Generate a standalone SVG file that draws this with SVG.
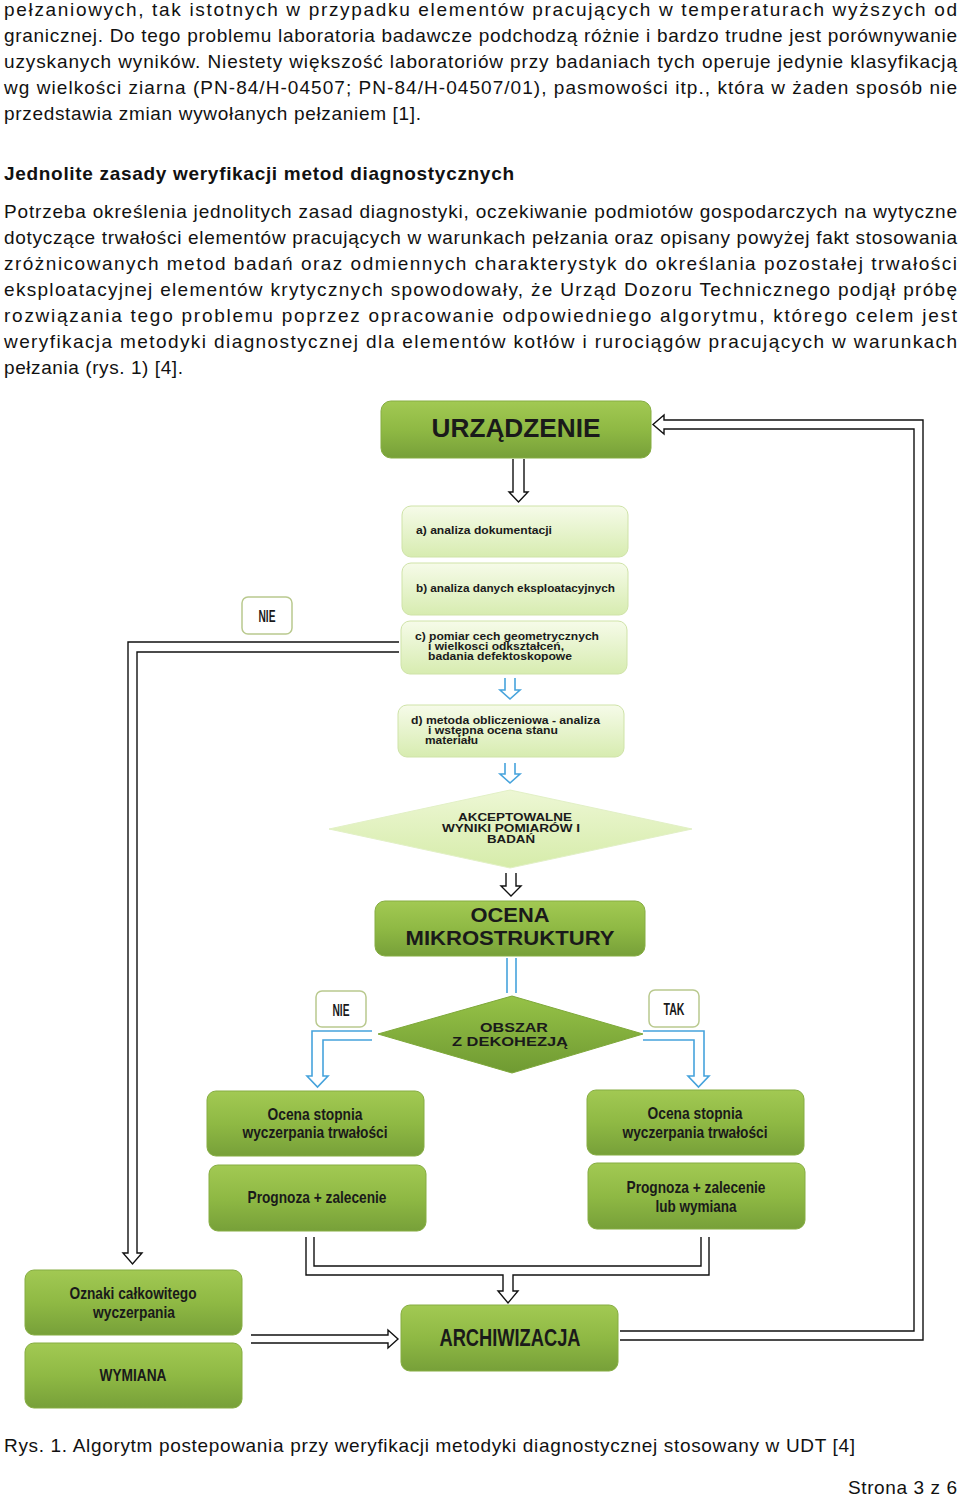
<svg xmlns="http://www.w3.org/2000/svg" width="960" height="1497" viewBox="0 0 960 1497">
<defs>
<linearGradient id="gDark" x1="0" y1="0" x2="0" y2="1">
<stop offset="0" stop-color="#a2c953"/>
<stop offset="0.5" stop-color="#8fb944"/>
<stop offset="1" stop-color="#77a039"/>
</linearGradient>
<linearGradient id="gLight" x1="0" y1="0" x2="0" y2="1">
<stop offset="0" stop-color="#f6fbe9"/>
<stop offset="1" stop-color="#d7ecb0"/>
</linearGradient>
<linearGradient id="gDia" x1="0" y1="0" x2="0" y2="1">
<stop offset="0" stop-color="#edf7d4"/>
<stop offset="1" stop-color="#d6ecaa"/>
</linearGradient>
<linearGradient id="gDia2" x1="0" y1="0" x2="0" y2="1">
<stop offset="0" stop-color="#96c247"/>
<stop offset="1" stop-color="#6f9a32"/>
</linearGradient>
</defs>
<style>
.body{font-family:"Liberation Sans",Arial,sans-serif;font-size:19px;fill:#111}
.head{font-family:"Liberation Sans",Arial,sans-serif;font-size:19px;font-weight:bold;fill:#111}
.dark{fill:url(#gDark);stroke:#86ad42;stroke-width:1}
.light{fill:url(#gLight);stroke:#cfe3a8;stroke-width:1}
.lbl{fill:#fff;stroke:#b9c98e;stroke-width:1.5}
.big{font-family:"Liberation Sans",Arial,sans-serif;font-weight:bold;fill:#1a1a1a;text-anchor:middle}
.sm{font-family:"Liberation Sans",Arial,sans-serif;font-weight:bold;font-size:10px;fill:#1a1a1a}
.nar{font-family:"Liberation Sans Narrow","Liberation Sans",Arial,sans-serif;font-weight:bold;fill:#1a1a1a;text-anchor:middle}
.blk{fill:none;stroke:#111;stroke-width:1.4}
.blu{fill:none;stroke:#46a3dc;stroke-width:1.6}
</style>
<rect width="960" height="1497" fill="#fff"/>

<g id="text-top">
<text class="body" x="4" y="16" textLength="953" lengthAdjust="spacing">pełzaniowych, tak istotnych w przypadku elementów pracujących w temperaturach wyższych od</text>
<text class="body" x="4" y="42" textLength="953" lengthAdjust="spacing">granicznej. Do tego problemu laboratoria badawcze podchodzą różnie i bardzo trudne jest porównywanie</text>
<text class="body" x="4" y="68" textLength="953" lengthAdjust="spacing">uzyskanych wyników. Niestety większość laboratoriów przy badaniach tych operuje jedynie klasyfikacją</text>
<text class="body" x="4" y="94" textLength="953" lengthAdjust="spacing">wg wielkości ziarna (PN-84/H-04507; PN-84/H-04507/01), pasmowości itp., która w żaden sposób nie</text>
<text class="body" x="4" y="120" textLength="417" lengthAdjust="spacing">przedstawia zmian wywołanych pełzaniem [1].</text>
<text class="head" x="4" y="180" textLength="510" lengthAdjust="spacing">Jednolite zasady weryfikacji metod diagnostycznych</text>
<text class="body" x="4" y="218" textLength="953" lengthAdjust="spacing">Potrzeba określenia jednolitych zasad diagnostyki, oczekiwanie podmiotów gospodarczych na wytyczne</text>
<text class="body" x="4" y="244" textLength="953" lengthAdjust="spacing">dotyczące trwałości elementów pracujących w warunkach pełzania oraz opisany powyżej fakt stosowania</text>
<text class="body" x="4" y="270" textLength="953" lengthAdjust="spacing">zróżnicowanych metod badań oraz odmiennych charakterystyk do określania pozostałej trwałości</text>
<text class="body" x="4" y="296" textLength="953" lengthAdjust="spacing">eksploatacyjnej elementów krytycznych spowodowały, że Urząd Dozoru Technicznego podjął próbę</text>
<text class="body" x="4" y="322" textLength="953" lengthAdjust="spacing">rozwiązania tego problemu poprzez opracowanie odpowiedniego algorytmu, którego celem jest</text>
<text class="body" x="4" y="348" textLength="953" lengthAdjust="spacing">weryfikacja metodyki diagnostycznej dla elementów kotłów i rurociągów pracujących w warunkach</text>
<text class="body" x="4" y="374" textLength="179" lengthAdjust="spacing">pełzania (rys. 1) [4].</text>
</g>

<g id="connectors">
<path class="blk" d="M513,459 V492 H509 L518.5,502 L528,492 H524 V459"/>
<path class="blu" d="M505,678 V690 H500 L510,699 L520,690 H515 V678"/>
<path class="blu" d="M505,763 V774 H500 L510,783 L520,774 H515 V763"/>
<path class="blk" d="M506,873 V886 H501 L511,896 L521,886 H516 V873"/>
<path class="blu" d="M507,958 V993 M516,958 V993"/>
<path class="blu" d="M372,1031 H312 V1076 H307 L317.5,1087 L328,1076 H323 V1040 H372"/>
<path class="blu" d="M643,1031 H704 V1076 H709 L698.5,1087 L688,1076 H694 V1040 H643"/>
<path class="blk" d="M399,642 H128 V1253 H123 L132.5,1264 L142,1253 H137 V652 H399"/>
<path class="blk" d="M251,1335 H388 V1330 L398,1339 L388,1348 V1343 H251"/>
<path class="blk" d="M620,1340 H923 V420 H664 V415 L653,424.5 L664,434 V429 H914 V1331 H620"/>
<path class="blk" d="M306,1237 V1275 H503 V1291 H498 L508,1303 L518,1291 H513 V1275 H709 V1237"/>
<path class="blk" d="M314,1237 V1266 H701 V1237"/>
</g>

<g id="urzadzenie">
<rect class="dark" x="381" y="401" width="270" height="57" rx="10"/>
<text class="big" x="516" y="437" font-size="25" textLength="169" lengthAdjust="spacingAndGlyphs">URZĄDZENIE</text>
</g>
<g id="node-a">
<rect class="light" x="402" y="506" width="226" height="51" rx="9"/>
<text class="sm" x="416" y="534" textLength="136" lengthAdjust="spacingAndGlyphs">a) analiza dokumentacji</text>
</g>
<g id="node-b">
<rect class="light" x="402" y="563" width="226" height="52" rx="9"/>
<text class="sm" x="416" y="592" textLength="199" lengthAdjust="spacingAndGlyphs">b) analiza danych eksploatacyjnych</text>
</g>
<g id="node-c">
<rect class="light" x="401" y="621" width="226" height="53" rx="9"/>
<text class="sm" x="415" y="640" textLength="184" lengthAdjust="spacingAndGlyphs">c) pomiar cech geometrycznych</text>
<text class="sm" x="428" y="650" textLength="136" lengthAdjust="spacingAndGlyphs">i wielkosci odkształceń,</text>
<text class="sm" x="428" y="660" textLength="144" lengthAdjust="spacingAndGlyphs">badania defektoskopowe</text>
</g>
<g id="node-d">
<rect class="light" x="398" y="705" width="226" height="52" rx="9"/>
<text class="sm" x="411" y="724" textLength="189" lengthAdjust="spacingAndGlyphs">d) metoda obliczeniowa - analiza</text>
<text class="sm" x="428" y="734" textLength="130" lengthAdjust="spacingAndGlyphs">i wstępna ocena stanu</text>
<text class="sm" x="425" y="744" textLength="53" lengthAdjust="spacingAndGlyphs">materiału</text>
</g>
<g id="akceptowalne">
<polygon points="329,829 510,790 692,829 510,868" fill="url(#gDia)" stroke="#e2f0c6" stroke-width="1"/>
<text class="big" x="515" y="821" font-size="11" textLength="114" lengthAdjust="spacingAndGlyphs">AKCEPTOWALNE</text>
<text class="big" x="511" y="832" font-size="11" textLength="138" lengthAdjust="spacingAndGlyphs">WYNIKI POMIARÓW I</text>
<text class="big" x="511" y="843" font-size="11" textLength="48" lengthAdjust="spacingAndGlyphs">BADAŃ</text>
</g>
<g id="ocena-mikrostruktury">
<rect class="dark" x="375" y="901" width="270" height="55" rx="10"/>
<text class="big" x="510" y="922" font-size="20" textLength="79" lengthAdjust="spacingAndGlyphs">OCENA</text>
<text class="big" x="510" y="945" font-size="20" textLength="209" lengthAdjust="spacingAndGlyphs">MIKROSTRUKTURY</text>
</g>
<g id="obszar">
<polygon points="378,1034 512,996 643,1034 512,1073" fill="url(#gDia2)" stroke="#7ea83a" stroke-width="1"/>
<text class="big" x="514" y="1032" font-size="13" textLength="68" lengthAdjust="spacingAndGlyphs">OBSZAR</text>
<text class="big" x="510" y="1046" font-size="13" textLength="116" lengthAdjust="spacingAndGlyphs">Z DEKOHEZJĄ</text>
</g>
<g id="nie-1">
<rect class="lbl" x="242" y="597" width="50" height="37" rx="6"/>
<text class="nar" x="267" y="622" font-size="16" textLength="17" lengthAdjust="spacingAndGlyphs">NIE</text>
</g>
<g id="nie-2">
<rect class="lbl" x="316" y="991" width="50" height="36" rx="6"/>
<text class="nar" x="341" y="1016" font-size="16" textLength="17" lengthAdjust="spacingAndGlyphs">NIE</text>
</g>
<g id="tak">
<rect class="lbl" x="649" y="990" width="50" height="37" rx="6"/>
<text class="nar" x="674" y="1015" font-size="16" textLength="21" lengthAdjust="spacingAndGlyphs">TAK</text>
</g>
<g id="ocena-l">
<rect class="dark" x="207" y="1091" width="217" height="65" rx="9"/>
<text class="nar" x="315" y="1120" font-size="17" textLength="95" lengthAdjust="spacingAndGlyphs">Ocena stopnia</text>
<text class="nar" x="315" y="1138" font-size="17" textLength="145" lengthAdjust="spacingAndGlyphs">wyczerpania trwałości</text>
</g>
<g id="prognoza-l">
<rect class="dark" x="209" y="1165" width="217" height="66" rx="9"/>
<text class="nar" x="317" y="1203" font-size="17" textLength="139" lengthAdjust="spacingAndGlyphs">Prognoza + zalecenie</text>
</g>
<g id="ocena-r">
<rect class="dark" x="587" y="1090" width="217" height="65" rx="9"/>
<text class="nar" x="695" y="1119" font-size="17" textLength="95" lengthAdjust="spacingAndGlyphs">Ocena stopnia</text>
<text class="nar" x="695" y="1138" font-size="17" textLength="145" lengthAdjust="spacingAndGlyphs">wyczerpania trwałości</text>
</g>
<g id="prognoza-r">
<rect class="dark" x="588" y="1163" width="217" height="66" rx="9"/>
<text class="nar" x="696" y="1193" font-size="17" textLength="139" lengthAdjust="spacingAndGlyphs">Prognoza + zalecenie</text>
<text class="nar" x="696" y="1212" font-size="17" textLength="81" lengthAdjust="spacingAndGlyphs">lub wymiana</text>
</g>
<g id="oznaki">
<rect class="dark" x="25" y="1270" width="217" height="65" rx="9"/>
<text class="nar" x="133" y="1299" font-size="17" textLength="127" lengthAdjust="spacingAndGlyphs">Oznaki całkowitego</text>
<text class="nar" x="134" y="1318" font-size="17" textLength="82" lengthAdjust="spacingAndGlyphs">wyczerpania</text>
</g>
<g id="wymiana">
<rect class="dark" x="25" y="1343" width="217" height="65" rx="9"/>
<text class="nar" x="133" y="1381" font-size="17" textLength="67" lengthAdjust="spacingAndGlyphs">WYMIANA</text>
</g>
<g id="archiwizacja">
<rect class="dark" x="401" y="1305" width="217" height="66" rx="9"/>
<text class="nar" x="510" y="1346" font-size="23" textLength="141" lengthAdjust="spacingAndGlyphs">ARCHIWIZACJA</text>
</g>

<g id="caption">
<text class="body" x="4" y="1452" textLength="851" lengthAdjust="spacing">Rys. 1. Algorytm postepowania przy weryfikacji metodyki diagnostycznej stosowany w UDT [4]</text>
<text class="body" x="957" y="1494" text-anchor="end" textLength="109" lengthAdjust="spacing">Strona 3 z 6</text>
</g>
</svg>
